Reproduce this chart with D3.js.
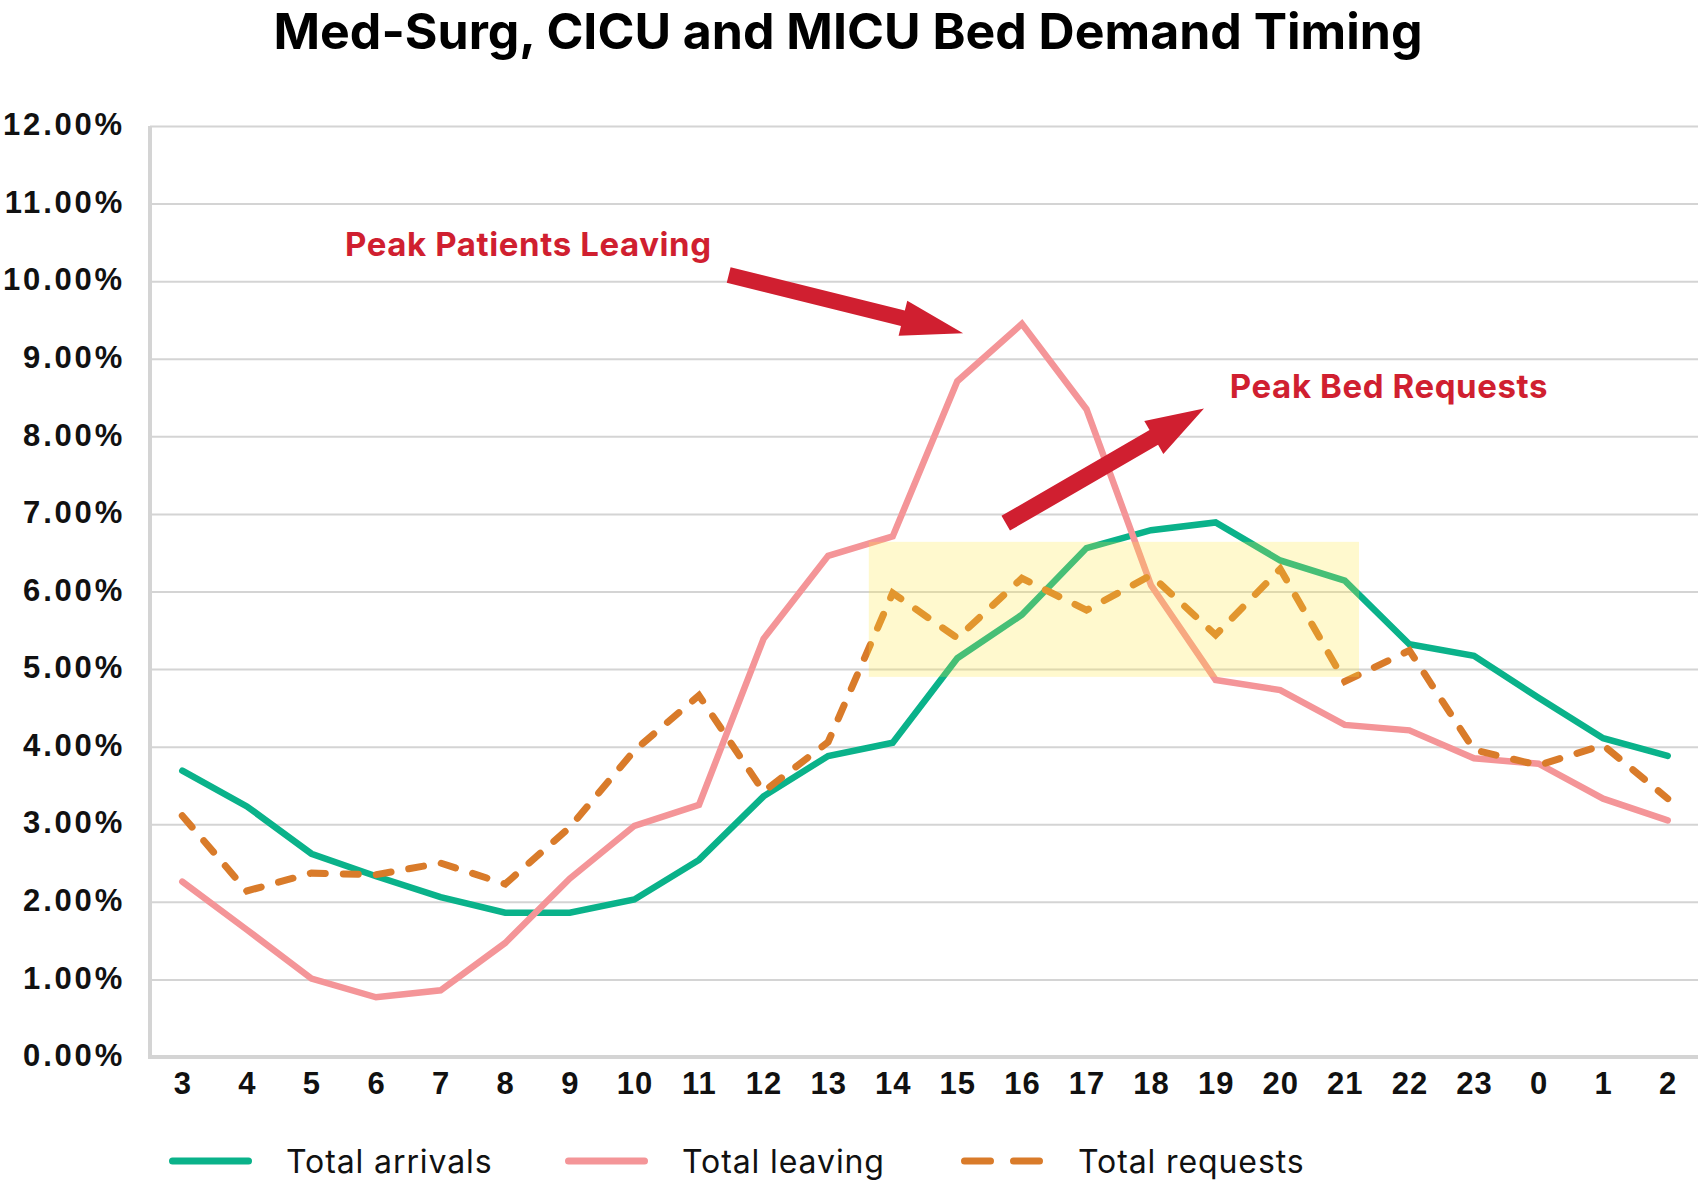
<!DOCTYPE html>
<html>
<head>
<meta charset="utf-8">
<script src="https://cdn.jsdelivr.net/npm/d3@7"></script>
<style>
  body { margin: 0; background: #fff; }
  svg { display: block; font-family: Inter, "Noto Sans", sans-serif; }
</style>
</head>
<body>
<div class="canvas"></div>
<script>
// data
const hours = ["3", "4", "5", "6", "7", "8", "9", "10", "11", "12", "13", "14",
  "15", "16", "17", "18", "19", "20", "21", "22", "23", "0", "1", "2"];
const arrivals = [3.69, 3.23, 2.62, 2.33, 2.06, 1.86, 1.86, 2.03, 2.54, 3.36, 3.88, 4.05,
  5.14, 5.70, 6.56, 6.79, 6.89, 6.40, 6.14, 5.32, 5.17, 4.63, 4.11, 3.88];
const leaving = [2.26, 1.64, 1.01, 0.77, 0.86, 1.47, 2.30, 2.98, 3.25, 5.39, 6.46, 6.71,
  8.71, 9.45, 8.35, 6.08, 4.86, 4.73, 4.28, 4.21, 3.85, 3.78, 3.33, 3.05];
const requests = [3.11, 2.14, 2.37, 2.35, 2.50, 2.23, 2.96, 3.95, 4.66, 3.42, 4.06, 5.98,
  5.40, 6.17, 5.76, 6.21, 5.44, 6.29, 4.84, 5.24, 3.96, 3.76, 4.02, 3.33];
const yTicks = [0, 1, 2, 3, 4, 5, 6, 7, 8, 9, 10, 11, 12];
const seriesNames = ["Total arrivals", "Total leaving", "Total requests"];

const width = 1698;
const height = 1184;
const margins = { top: 126, right: -2, bottom: 127, left: 150 };

const svg = d3
  .select(".canvas")
  .append("svg")
  .attr("width", width)
  .attr("height", height);

// scales
const x = d3.scalePoint().domain(hours).range([margins.left, width - margins.right]).padding(0.5);
const y = d3.scaleLinear().domain([0, 12]).range([height - margins.bottom, margins.top]);
// index scale for annotations placed between hours
const xi = d3.scaleLinear().domain([0, hours.length - 1]).range([x(hours[0]), x(hours[hours.length - 1])]);

// title
svg.append("text")
  .attr("x", 848)
  .attr("y", 49)
  .attr("text-anchor", "middle")
  .style("font-size", "50px")
  .style("font-weight", 700)
  .attr("fill", "#000")
  .text("Med-Surg, CICU and MICU Bed Demand Timing");

// grid
const yAxis = d3.axisLeft(y).tickValues(yTicks)
  .tickSize(-(width - margins.left))
  .tickFormat((d) => d3.format(".2f")(d) + "%");
const yAxisGroup = svg.append("g")
  .attr("transform", `translate(${margins.left}, 0)`)
  .call(yAxis);
yAxisGroup.select(".domain").remove();
yAxisGroup.selectAll(".tick line").attr("stroke", "#d4d4d4").attr("stroke-width", 2);
yAxisGroup.selectAll(".tick text")
  .attr("x", -25)
  .attr("dy", "0.28em")
  .attr("fill", "#111")
  .style("font-size", "31px")
  .style("letter-spacing", "2.8px")
  .style("font-weight", 600);

// axis lines
svg.append("line")
  .attr("x1", margins.left).attr("x2", margins.left)
  .attr("y1", y(12)).attr("y2", y(0) + 2)
  .attr("stroke", "#d4d4d4").attr("stroke-width", 4);
svg.append("line")
  .attr("x1", margins.left).attr("x2", width)
  .attr("y1", y(0)).attr("y2", y(0))
  .attr("stroke", "#d4d4d4").attr("stroke-width", 4);

const xAxis = d3.axisBottom(x).tickSize(0);
const xAxisGroup = svg.append("g")
  .attr("transform", `translate(0, ${y(0)})`)
  .call(xAxis);
xAxisGroup.select(".domain").remove();
xAxisGroup.selectAll(".tick text")
  .attr("y", 37)
  .attr("dy", 0)
  .attr("fill", "#111")
  .style("font-size", "31px")
  .style("letter-spacing", "1px")
  .style("font-weight", 600);

// lines
const line = d3.line()
  .x((d, i) => x(hours[i]))
  .y((d) => y(d));

const series = [
  { name: seriesNames[0], values: arrivals, color: "#0ab28a", dash: null, w: 6.5 },
  { name: seriesNames[1], values: leaving, color: "#f49598", dash: null, w: 6.5 },
  { name: seriesNames[2], values: requests, color: "#d97b2a", dash: "15 18", w: 7 },
];

series.forEach((s) => {
  svg.append("path")
    .datum(s.values)
    .attr("fill", "none")
    .attr("stroke", s.color)
    .attr("stroke-width", s.w)
    .attr("stroke-linecap", "round")
    .attr("stroke-linejoin", "miter")
    .attr("stroke-dasharray", s.dash)
    .attr("d", line);
});

// highlight box
svg.append("rect")
  .attr("x", xi(10.63))
  .attr("width", xi(18.22) - xi(10.63))
  .attr("y", y(6.64))
  .attr("height", y(4.9) - y(6.64))
  .attr("fill", "#ffe83c")
  .attr("opacity", 0.25);

// arrows
const arrow = (x0, y0, x1, y1, sw, hl, hw) => {
  const len = Math.hypot(x1 - x0, y1 - y0);
  const ux = (x1 - x0) / len, uy = (y1 - y0) / len;
  const nx = -uy, ny = ux;
  const bx = x1 - ux * hl, by = y1 - uy * hl;
  return [
    [x0 + nx * sw / 2, y0 + ny * sw / 2],
    [bx + nx * sw / 2, by + ny * sw / 2],
    [bx + nx * hw / 2, by + ny * hw / 2],
    [x1, y1],
    [bx - nx * hw / 2, by - ny * hw / 2],
    [bx - nx * sw / 2, by - ny * sw / 2],
    [x0 - nx * sw / 2, y0 - ny * sw / 2],
  ];
};

const red = "#d01f30";
svg.append("polygon")
  .attr("points", arrow(xi(8.46), y(10.08), xi(12.09), y(9.33), 16, 62, 36).join(" "))
  .attr("fill", red);
svg.append("polygon")
  .attr("points", arrow(xi(12.75), y(6.88), xi(15.82), y(8.36), 17, 58, 38).join(" "))
  .attr("fill", red);

svg.append("text")
  .attr("x", xi(2.52)).attr("y", y(10.33))
  .attr("fill", red)
  .style("font-size", "33px")
  .style("letter-spacing", "0.6px")
  .style("font-weight", 700)
  .text("Peak Patients Leaving");
svg.append("text")
  .attr("x", xi(16.22)).attr("y", y(8.5))
  .attr("fill", red)
  .style("font-size", "33px")
  .style("letter-spacing", "0.6px")
  .style("font-weight", 700)
  .text("Peak Bed Requests");

// legend
const legend = svg.append("g").attr("transform", "translate(169, 1161)");
series.forEach((s, i) => {
  const g = legend.append("g").attr("transform", `translate(${i * 396}, 0)`);
  g.append("line")
    .attr("x1", 3.5).attr("x2", 79.5)
    .attr("y1", 0).attr("y2", 0)
    .attr("stroke", s.color)
    .attr("stroke-width", 7)
    .attr("stroke-linecap", "round")
    .attr("stroke-dasharray", s.dash ? "26 23" : null);
  g.append("text")
    .attr("x", 117)
    .attr("y", 0)
    .attr("dy", "0.36em")
    .attr("fill", "#111")
    .style("font-size", "32px")
    .style("letter-spacing", "0.9px")
    .text(s.name);
});
</script>
</body>
</html>
